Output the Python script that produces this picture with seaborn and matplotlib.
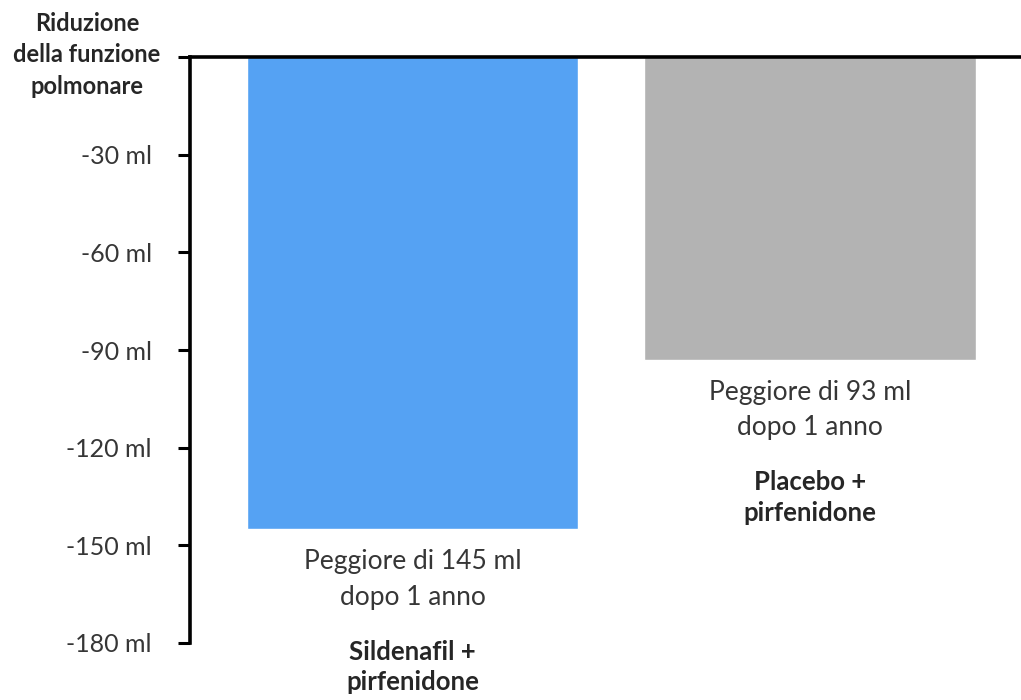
import matplotlib
matplotlib.use("Agg")
import matplotlib.pyplot as plt
import seaborn as sns
import pandas as pd

categories = ["Sildenafil +\npirfenidone", "Placebo +\npirfenidone"]
values = [-145, -93]
bar_notes = ["Peggiore di 145 ml\ndopo 1 anno", "Peggiore di 93 ml\ndopo 1 anno"]
colors = ["#55A2F3", "#B3B3B3"]
tick_values = [0, -30, -60, -90, -120, -150, -180]
tick_labels = ["", "-30 ml", "-60 ml", "-90 ml", "-120 ml", "-150 ml", "-180 ml"]
axis_title = "Riduzione\ndella funzione\npolmonare"

sns.set_theme(style="white")
plt.rcParams['font.family'] = ['Lato', 'DejaVu Sans']

df = pd.DataFrame({"cat": categories, "val": values})

fig = plt.figure(figsize=(10.21, 7.0), dpi=100)
ax = fig.add_axes([190/1021, 1-643/700, 1-190/1021, (643-57)/700])

sns.barplot(data=df, x="cat", y="val", hue="cat", palette=colors, width=0.835,
            dodge=False, legend=False, ax=ax, saturation=1)

ax.set_ylim(-180, 0)
ax.set_xlim(-0.56, 1.531)
ax.set_xticks([])
ax.set_xlabel("")
ax.set_ylabel("")
ax.set_yticks(tick_values)
ax.set_yticklabels(tick_labels)
text_col = "#363636"
for lab in ax.get_yticklabels():
    lab.set_color(text_col)
    lab.set_fontsize(18)
ax.tick_params(axis="y", direction="out", length=8.5, width=2.2, color="black", pad=19, left=True)

for s in ["bottom", "right"]:
    ax.spines[s].set_visible(False)
for s in ["top", "left"]:
    ax.spines[s].set_visible(True)
    ax.spines[s].set_color("black")
    ax.spines[s].set_linewidth(2.6)

fig.text(87/1021, 1-55/700, axis_title, ha="center", va="center", fontsize=17,
         fontweight="bold", color="#262626", linespacing=1.45, multialignment="center")

for i, (v, note, cat) in enumerate(zip(values, bar_notes, categories)):
    ax.text(i, v - 6.2, note, ha="center", va="top", fontsize=19, color=text_col,
            linespacing=1.52)
    ax.text(i, v - 34.0, cat, ha="center", va="top", fontsize=18.5, fontweight="bold",
            color="#262626", linespacing=1.32, clip_on=False)

fig.savefig("out.png", dpi=100)
